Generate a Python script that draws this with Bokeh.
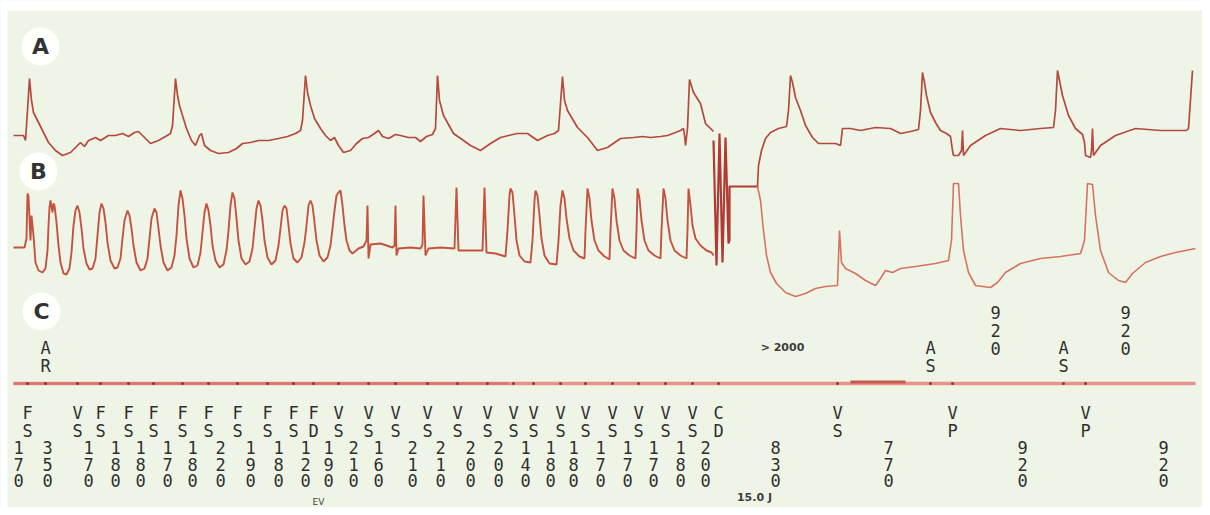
from bokeh.plotting import figure
from bokeh.models import Range1d
from bokeh.core.properties import value
from bokeh.embed import file_html
from bokeh.resources import INLINE

# ---------------- data (time position, amplitude position) ----------------
trace_a_t = [13, 23, 25, 27, 29, 31, 33, 37, 42, 48, 55, 62, 70, 76, 80, 84, 88, 95, 100, 108, 115, 122, 128,
             134, 138, 143, 150, 158, 165, 170, 172, 175, 177, 179, 182, 186, 191, 195, 199, 201, 204, 210,
             218, 228, 236, 242, 250, 258, 268, 278, 287, 295, 300, 302, 305, 307, 310, 314, 320, 325, 330,
             334, 338, 343, 350, 356, 362, 368, 374, 378, 382, 388, 395, 400, 408, 415, 420, 426, 432, 435,
             437, 439, 443, 453, 463, 470, 480, 490, 500, 508, 517, 527, 537, 547, 554, 558, 562, 564, 567,
             577, 587, 597, 607, 620, 633, 642, 650, 660, 667, 675, 680, 683, 684, 685, 687, 689, 693, 700,
             705, 710, 713]
trace_a_v = [135, 135, 140, 110, 78, 100, 112, 120, 130, 142, 150, 155, 152, 146, 142, 146, 140, 137, 140, 135,
             135, 133, 136, 132, 131, 136, 143, 140, 136, 133, 125, 78, 95, 105, 115, 128, 140, 145, 135, 133,
             145, 150, 153, 152, 148, 143, 142, 140, 140, 138, 136, 133, 130, 120, 75, 92, 105, 118, 128, 135,
             140, 137, 145, 152, 150, 143, 138, 137, 133, 130, 136, 138, 134, 135, 137, 137, 141, 136, 134, 128,
             75, 100, 115, 133, 140, 145, 150, 143, 137, 135, 133, 133, 140, 135, 133, 130, 76, 100, 110,
             127, 137, 150, 147, 138, 137, 136, 137, 136, 135, 132, 130, 128, 135, 145, 128, 79, 92, 103, 123,
             128, 131, 140]

artifact_t = [713, 716, 719, 722, 725, 728, 729, 729, 757]
artifact_v = [140, 265, 133, 262, 137, 243, 240, 186, 186]

trace_a2_t = [757, 758, 761, 765, 770, 778, 786, 788, 790, 792, 795, 800, 805, 812, 818, 828, 835, 840, 842,
              850, 860, 875, 890, 900, 910, 918, 920, 922, 924, 926, 930, 935, 940, 946, 950, 952, 953, 958,
              961, 962, 963, 970, 985, 1000, 1020, 1040, 1053, 1055, 1057, 1059, 1062, 1068, 1075, 1082, 1084,
              1085, 1090, 1091, 1092, 1093, 1100, 1115, 1135, 1160, 1175, 1186, 1188, 1192]
trace_a2_v = [186, 165, 150, 138, 132, 128, 126, 110, 75, 82, 97, 110, 125, 137, 143, 143, 143, 145, 128,
              128, 130, 127, 128, 133, 131, 129, 110, 72, 82, 95, 112, 122, 130, 133, 136, 150, 155, 155,
              150, 130, 155, 145, 135, 128, 130, 128, 127, 110, 70, 80, 95, 115, 128, 134, 142, 155, 157, 150,
              128, 155, 145, 135, 128, 130, 130, 130, 128, 70]

trace_b_t = [13, 24, 26, 27, 28, 30, 31, 33, 35, 38, 42, 45, 47, 48, 49, 50, 52, 53, 54, 56, 58, 60, 63, 66,
             69, 71, 73, 75, 77, 79, 81, 83, 86, 89, 92, 95, 97, 99, 101, 103, 105, 107, 110, 114, 117, 120,
             122, 124, 127, 129, 131, 133, 136, 140, 144, 147, 149, 151, 154, 156, 158, 160, 163, 167, 171,
             174, 176, 178, 180, 182, 184, 186, 189, 193, 197, 200, 202, 204, 206, 208, 210, 212, 215, 219,
             223, 226, 228, 230, 232, 234, 236, 238, 241, 245, 249, 252, 254, 256, 258, 260, 262, 264, 267,
             271, 275, 278, 280, 282, 284, 286, 288, 290, 293, 297, 301, 304, 306, 308, 310, 312, 314, 316,
             319, 323, 327, 330, 332, 334, 336, 338, 340, 342, 344, 346, 349, 352, 358, 363, 366, 367, 368,
             370, 380, 392, 394, 395, 396, 398, 410, 420, 422, 423, 425, 428, 440, 454, 456, 458, 470, 482,
             484, 486, 495, 505, 507, 509, 510, 512, 514, 516, 519, 524, 530, 532, 534, 535, 537, 539, 541,
             544, 549, 556, 558, 560, 562, 564, 566, 569, 573, 579, 584, 585, 587, 589, 591, 594, 598, 604,
             609, 610, 612, 614, 616, 619, 623, 629, 635, 636, 637, 639, 641, 644, 648, 654, 660, 661, 663,
             665, 667, 670, 674, 680, 686, 687, 688, 690, 692, 695, 700, 706, 711, 713]
trace_b_v = [247, 247, 238, 193, 196, 240, 215, 235, 262, 270, 272, 268, 250, 225, 207, 200, 212, 203, 205,
             222, 245, 262, 273, 274, 268, 252, 225, 210, 205, 212, 228, 248, 263, 269, 268, 258, 235, 212,
             203, 208, 222, 242, 260, 268, 267, 258, 238, 220, 210, 215, 228, 245, 262, 270, 268, 258, 238,
             218, 208, 212, 228, 245, 262, 270, 267, 255, 235, 205, 190, 198, 215, 238, 258, 267, 265, 252,
             232, 212, 203, 210, 225, 245, 260, 267, 264, 250, 230, 205, 192, 198, 218, 240, 258, 264, 261,
             248, 228, 208, 200, 205, 220, 240, 257, 264, 260, 245, 228, 210, 205, 208, 225, 243, 258, 262,
             257, 242, 225, 205, 200, 205, 222, 240, 255, 261, 257, 245, 228, 210, 195, 192, 190, 205, 225,
             240, 250, 253, 248, 246, 240, 205, 258, 244, 243, 247, 245, 205, 255, 248, 247, 248, 244, 195,
             255, 248, 247, 248, 187, 250, 250, 250, 187, 252, 253, 256, 230, 195, 188, 192, 215, 240, 255,
             261, 262, 240, 200, 190, 195, 215, 238, 255, 263, 264, 240, 205, 190, 198, 218, 238, 250, 256,
             258, 230, 188, 198, 220, 240, 250, 256, 259, 230, 188, 198, 220, 240, 250, 255, 258, 230, 188,
             198, 220, 240, 250, 255, 258, 230, 188, 198, 220, 240, 250, 255, 258, 230, 188, 205, 225, 238,
             245, 250, 252, 255]

trace_b2_t = [757, 760, 763, 766, 770, 776, 785, 795, 805, 815, 825, 837, 839, 841, 845, 855, 865, 875, 880,
              885, 892, 900, 915, 935, 948, 951, 953, 958, 960, 963, 968, 975, 990, 997, 1005, 1020, 1040,
              1060, 1080, 1084, 1087, 1092, 1095, 1100, 1108, 1118, 1125, 1132, 1145, 1160, 1175, 1195]
trace_b2_v = [186, 200, 230, 255, 272, 283, 292, 296, 293, 288, 286, 285, 230, 262, 268, 273, 280, 285, 278,
              270, 272, 268, 266, 263, 260, 240, 183, 183, 215, 250, 272, 285, 287, 282, 272, 263, 258, 256,
              253, 240, 183, 184, 215, 250, 272, 280, 282, 273, 262, 256, 252, 248]

# marker channel (C)
event_x = [27, 77, 100, 128, 153, 182, 208, 237, 267, 293, 313, 338, 368, 395, 427, 457, 487, 513, 533,
           560, 585, 612, 638, 665, 692, 718, 837, 952, 1085]
event_codes = ["FS", "VS", "FS", "FS", "FS", "FS", "FS", "FS", "FS", "FS", "FD", "VS", "VS", "VS", "VS",
               "VS", "VS", "VS", "VS", "VS", "VS", "VS", "VS", "VS", "VS", "CD", "VS", "VP", "VP"]
interval_x = [18, 47, 88, 115, 140, 167, 192, 220, 250, 278, 305, 328, 353, 378, 412, 440, 470, 498, 525,
              550, 573, 600, 627, 653, 680, 705, 775, 888, 1022, 1163]
intervals = ["170", "350", "170", "180", "180", "170", "180", "220", "190", "180", "120", "190", "210",
             "160", "210", "210", "200", "200", "140", "180", "180", "170", "170", "170", "180", "200",
             "830", "770", "920", "920"]
atrial_x = [45, 930, 1063]
atrial_codes = ["AR", "AS", "AS"]
atrial_interval_x = [995, 1125]
atrial_intervals = ["920", "920"]
panel_labels = ["A", "B", "C"]
panel_label_x = [40, 38, 41]
panel_label_y = [46, 171, 311]

# ---------------- figure ----------------
BG = "#eef5e7"
p = figure(width=1202, height=507, x_range=Range1d(0, 1202), y_range=Range1d(507, 0),
           output_backend="svg", toolbar_location=None, x_axis_location=None, y_axis_location=None,
           min_border=0, background_fill_color=BG, border_fill_color=BG)
p.grid.visible = False
p.outline_line_color = None

# white strips at the top and left edge
p.quad(left=[0, 0], right=[1202, 7], top=[0, 0], bottom=[10, 507], fill_color="white", line_color=None)

TRACE = "#b5493d"
p.line(trace_a_t, trace_a_v, line_color=TRACE, line_width=1.7)
p.line(trace_a2_t, trace_a2_v, line_color=TRACE, line_width=1.7)
p.line(trace_b_t, trace_b_v, line_color="#c4523f", line_width=1.9)
p.line(trace_b2_t, trace_b2_v, line_color="#d6735f", line_width=1.6)
p.line(artifact_t, artifact_v, line_color="#b23a33", line_width=2.2)

# marker channel line
p.line([13, 1195], [383, 383], line_color="#e7938a", line_width=3.5)
p.line([13, 508], [383, 383], line_color="#d9756b", line_width=2.5)
p.line([850, 905], [381.5, 381.5], line_color="#c5584f", line_width=3)
p.scatter(event_x + atrial_x, [383] * (len(event_x) + len(atrial_x)), size=3,
          fill_color="#8a3a33", line_color=None)

# panel labels
p.scatter(panel_label_x, panel_label_y, size=38, fill_color="white", fill_alpha=0.95, line_color=None)
p.text(panel_label_x, panel_label_y, text=panel_labels, text_align="center", text_baseline="middle",
       text_font=value("DejaVu Sans"), text_font_style="bold", text_font_size="22px", text_color="#333333")


def stacked(xs, labels, y0, step, size="17px"):
    cx, cy, ct = [], [], []
    for x, lab in zip(xs, labels):
        for i, ch in enumerate(lab):
            cx.append(x)
            cy.append(y0 + i * step)
            ct.append(ch)
    p.text(cx, cy, text=ct, text_align="center", text_baseline="middle",
           text_font=value("DejaVu Sans Mono"), text_font_size=size, text_color="#2f2f2f")


stacked(event_x, event_codes, 412, 18)
stacked(interval_x, intervals, 447, 16.5)
stacked(atrial_x, atrial_codes, 347, 18)
stacked(atrial_interval_x, atrial_intervals, 312, 18)

p.text([782], [347], text=["> 2000"], text_align="center", text_baseline="middle",
       text_font=value("DejaVu Sans"), text_font_style="bold", text_font_size="11px", text_color="#3e3e3e")
p.text([754], [497], text=["15.0 J"], text_align="center", text_baseline="middle",
       text_font=value("DejaVu Sans"), text_font_style="bold", text_font_size="11px", text_color="#3e3e3e")
p.text([318], [501], text=["EV"], text_align="center", text_baseline="middle",
       text_font=value("DejaVu Sans"), text_font_size="9px", text_color="#3e3e3e")

open("out.html", "w").write(file_html(p, INLINE))
